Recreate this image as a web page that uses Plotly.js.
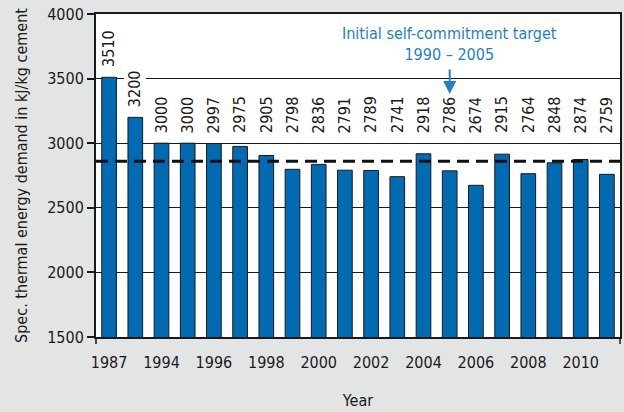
<!DOCTYPE html>
<html>
<head>
<meta charset="utf-8">
<script src="https://cdn.plot.ly/plotly-3.0.1.min.js"></script>
<style>
  html, body { margin: 0; padding: 0; background: #e3e4e4; }
  #chart { width: 624px; height: 412px; }
</style>
</head>
<body>
<div id="chart"></div>
<script>
const years = ['1987', '1990', '1994', '1995', '1996', '1997', '1998', '1999', '2000', '2001',
  '2002', '2003', '2004', '2005', '2006', '2007', '2008', '2009', '2010', '2011'];
const demand = [3510, 3200, 3000, 3000, 2997, 2975, 2905, 2798, 2836, 2791,
  2789, 2741, 2918, 2786, 2674, 2915, 2764, 2848, 2874, 2759];
const shownYears = ['1987', '1994', '1996', '1998', '2000', '2002', '2004', '2006', '2008', '2010'];
const targetValue = 2860;
const targetLabel = 'Initial self-commitment target<br>1990 – 2005';
const targetYear = '2005';
const labelFloor = 3000; // value labels below this line up at one height

const FONT = '"DejaVu Sans Condensed", "Liberation Sans Narrow", Roboto, sans-serif';
const BLUE = '#006ab3';
const TEXT_BLUE = '#1f80c6';

// year strings like "2005" would be read as category indices, so go through positions
const pos = yr => years.indexOf(yr);

const trace = {
  x: years,
  y: demand,
  type: 'bar',
  marker: { color: BLUE, line: { color: '#1a1a1a', width: 1 } },
  hoverinfo: 'x+y',
};

// value labels, rotated, above each bar (or above the 3000 line)
const valueLabels = years.map((yr, i) => ({
  x: pos(yr),
  y: Math.max(demand[i], labelFloor),
  text: String(demand[i]),
  textangle: -90,
  showarrow: false,
  xanchor: 'center',
  yanchor: 'bottom',
  yshift: 8,
  bgcolor: '#ffffff',
  borderpad: 1,
  font: { family: FONT, size: 16, color: '#1a1a1a' },
}));

const layout = {
  width: 624,
  height: 412,
  paper_bgcolor: '#e3e4e4',
  plot_bgcolor: '#ffffff',
  font: { family: FONT, size: 16, color: '#1a1a1a' },
  margin: { l: 96, r: 4, t: 14, b: 75 },
  bargap: 0.44,
  showlegend: false,
  xaxis: {
    type: 'category',
    range: [-0.5, years.length - 0.5],
    tickvals: shownYears.map(pos),
    ticktext: shownYears,
    ticks: '',
    ticklabelstandoff: 10,
    showline: true,
    linecolor: '#1a1a1a',
    linewidth: 2,
    mirror: true,
    showgrid: false,
    title: { text: 'Year', font: { family: FONT, size: 16 }, standoff: 24 },
  },
  yaxis: {
    range: [1500, 4000],
    tickvals: [1500, 2000, 2500, 3000, 3500, 4000],
    ticks: 'outside',
    ticklen: 7,
    tickwidth: 1.5,
    tickcolor: '#1a1a1a',
    showline: true,
    linecolor: '#1a1a1a',
    linewidth: 2,
    mirror: true,
    gridcolor: '#1a1a1a',
    gridwidth: 1,
    zeroline: false,
    title: { text: 'Spec. thermal energy demand in kJ/kg cement', font: { family: FONT, size: 16 }, standoff: 16 },
  },
  shapes: [
    {
      type: 'line',
      xref: 'paper', x0: 0, x1: 1,
      yref: 'y', y0: targetValue, y1: targetValue,
      line: { color: '#111111', width: 3, dash: '12px,7px' },
    },
    // end ticks under the x axis
    { type: 'line', xref: 'paper', x0: 0, x1: 0, yref: 'paper', y0: 0, y1: -0.022, line: { color: '#1a1a1a', width: 1.5 } },
    { type: 'line', xref: 'paper', x0: 1, x1: 1, yref: 'paper', y0: 0, y1: -0.022, line: { color: '#1a1a1a', width: 1.5 } },
  ],
  annotations: [
    ...valueLabels,
    {
      x: pos(targetYear), y: 3764,
      text: targetLabel,
      showarrow: false,
      yanchor: 'middle',
      font: { family: FONT, size: 16, color: TEXT_BLUE, lineposition: 'none' },
    },
    {
      x: pos(targetYear), y: 3381,
      ax: 0, ay: -26,
      showarrow: true,
      arrowhead: 2,
      arrowsize: 1.3,
      arrowwidth: 2,
      arrowcolor: TEXT_BLUE,
      text: '',
    },
  ],
};

Plotly.newPlot('chart', [trace], layout, { displayModeBar: false, responsive: false });
</script>
</body>
</html>
